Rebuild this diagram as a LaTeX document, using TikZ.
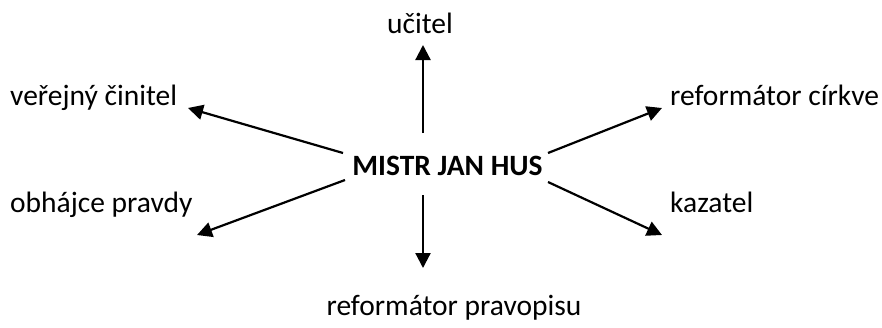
\documentclass[tikz,border=0pt]{standalone}
\usepackage{fontspec}
\setmainfont{Carlito}
\usetikzlibrary{arrows.meta}

\begin{document}
\begin{tikzpicture}[x=1pt,y=-1pt,
    lbl/.style={inner sep=0pt,font=\fontsize{29.5}{35}\selectfont},
    >={Triangle[length=15pt,width=15pt]}]
    \useasboundingbox (0,0) rectangle (882,327);
    \node [lbl,font=\fontsize{29.5}{35}\selectfont\bfseries,anchor=base] (hus) at (447.5,175) {MISTR JAN HUS};
    \node [lbl,anchor=base] (ucitel) at (420,33) {učitel};
    \node [lbl,anchor=base west] (cinitel) at (10,105) {veřejný činitel};
    \node [lbl,anchor=base west] (obhajce) at (10,212) {obhájce pravdy};
    \node [lbl,anchor=base west] (cirkve) at (670,105) {reformátor církve};
    \node [lbl,anchor=base west] (kazatel) at (670,212) {kazatel};
    \node [lbl,anchor=base] (pravopis) at (454,315) {reformátor pravopisu};
    % ends of the arrows
    \coordinate (up0) at (423,133);   \coordinate (up1) at (423,45);
    \coordinate (dn0) at (423,195);   \coordinate (dn1) at (423,268);
    \coordinate (ul0) at (343,153);   \coordinate (ul1) at (188,108);
    \coordinate (dl0) at (345,180);   \coordinate (dl1) at (197,235);
    \coordinate (ur0) at (548,153);   \coordinate (ur1) at (662,108);
    \coordinate (dr0) at (548,182);   \coordinate (dr1) at (662,235);
    \foreach \s/\e in {up0/up1,dn0/dn1,ul0/ul1,dl0/dl1,ur0/ur1,dr0/dr1}
    \draw [->,line width=2.2pt] (\s)--(\e);
  \end{tikzpicture}
\end{document}
